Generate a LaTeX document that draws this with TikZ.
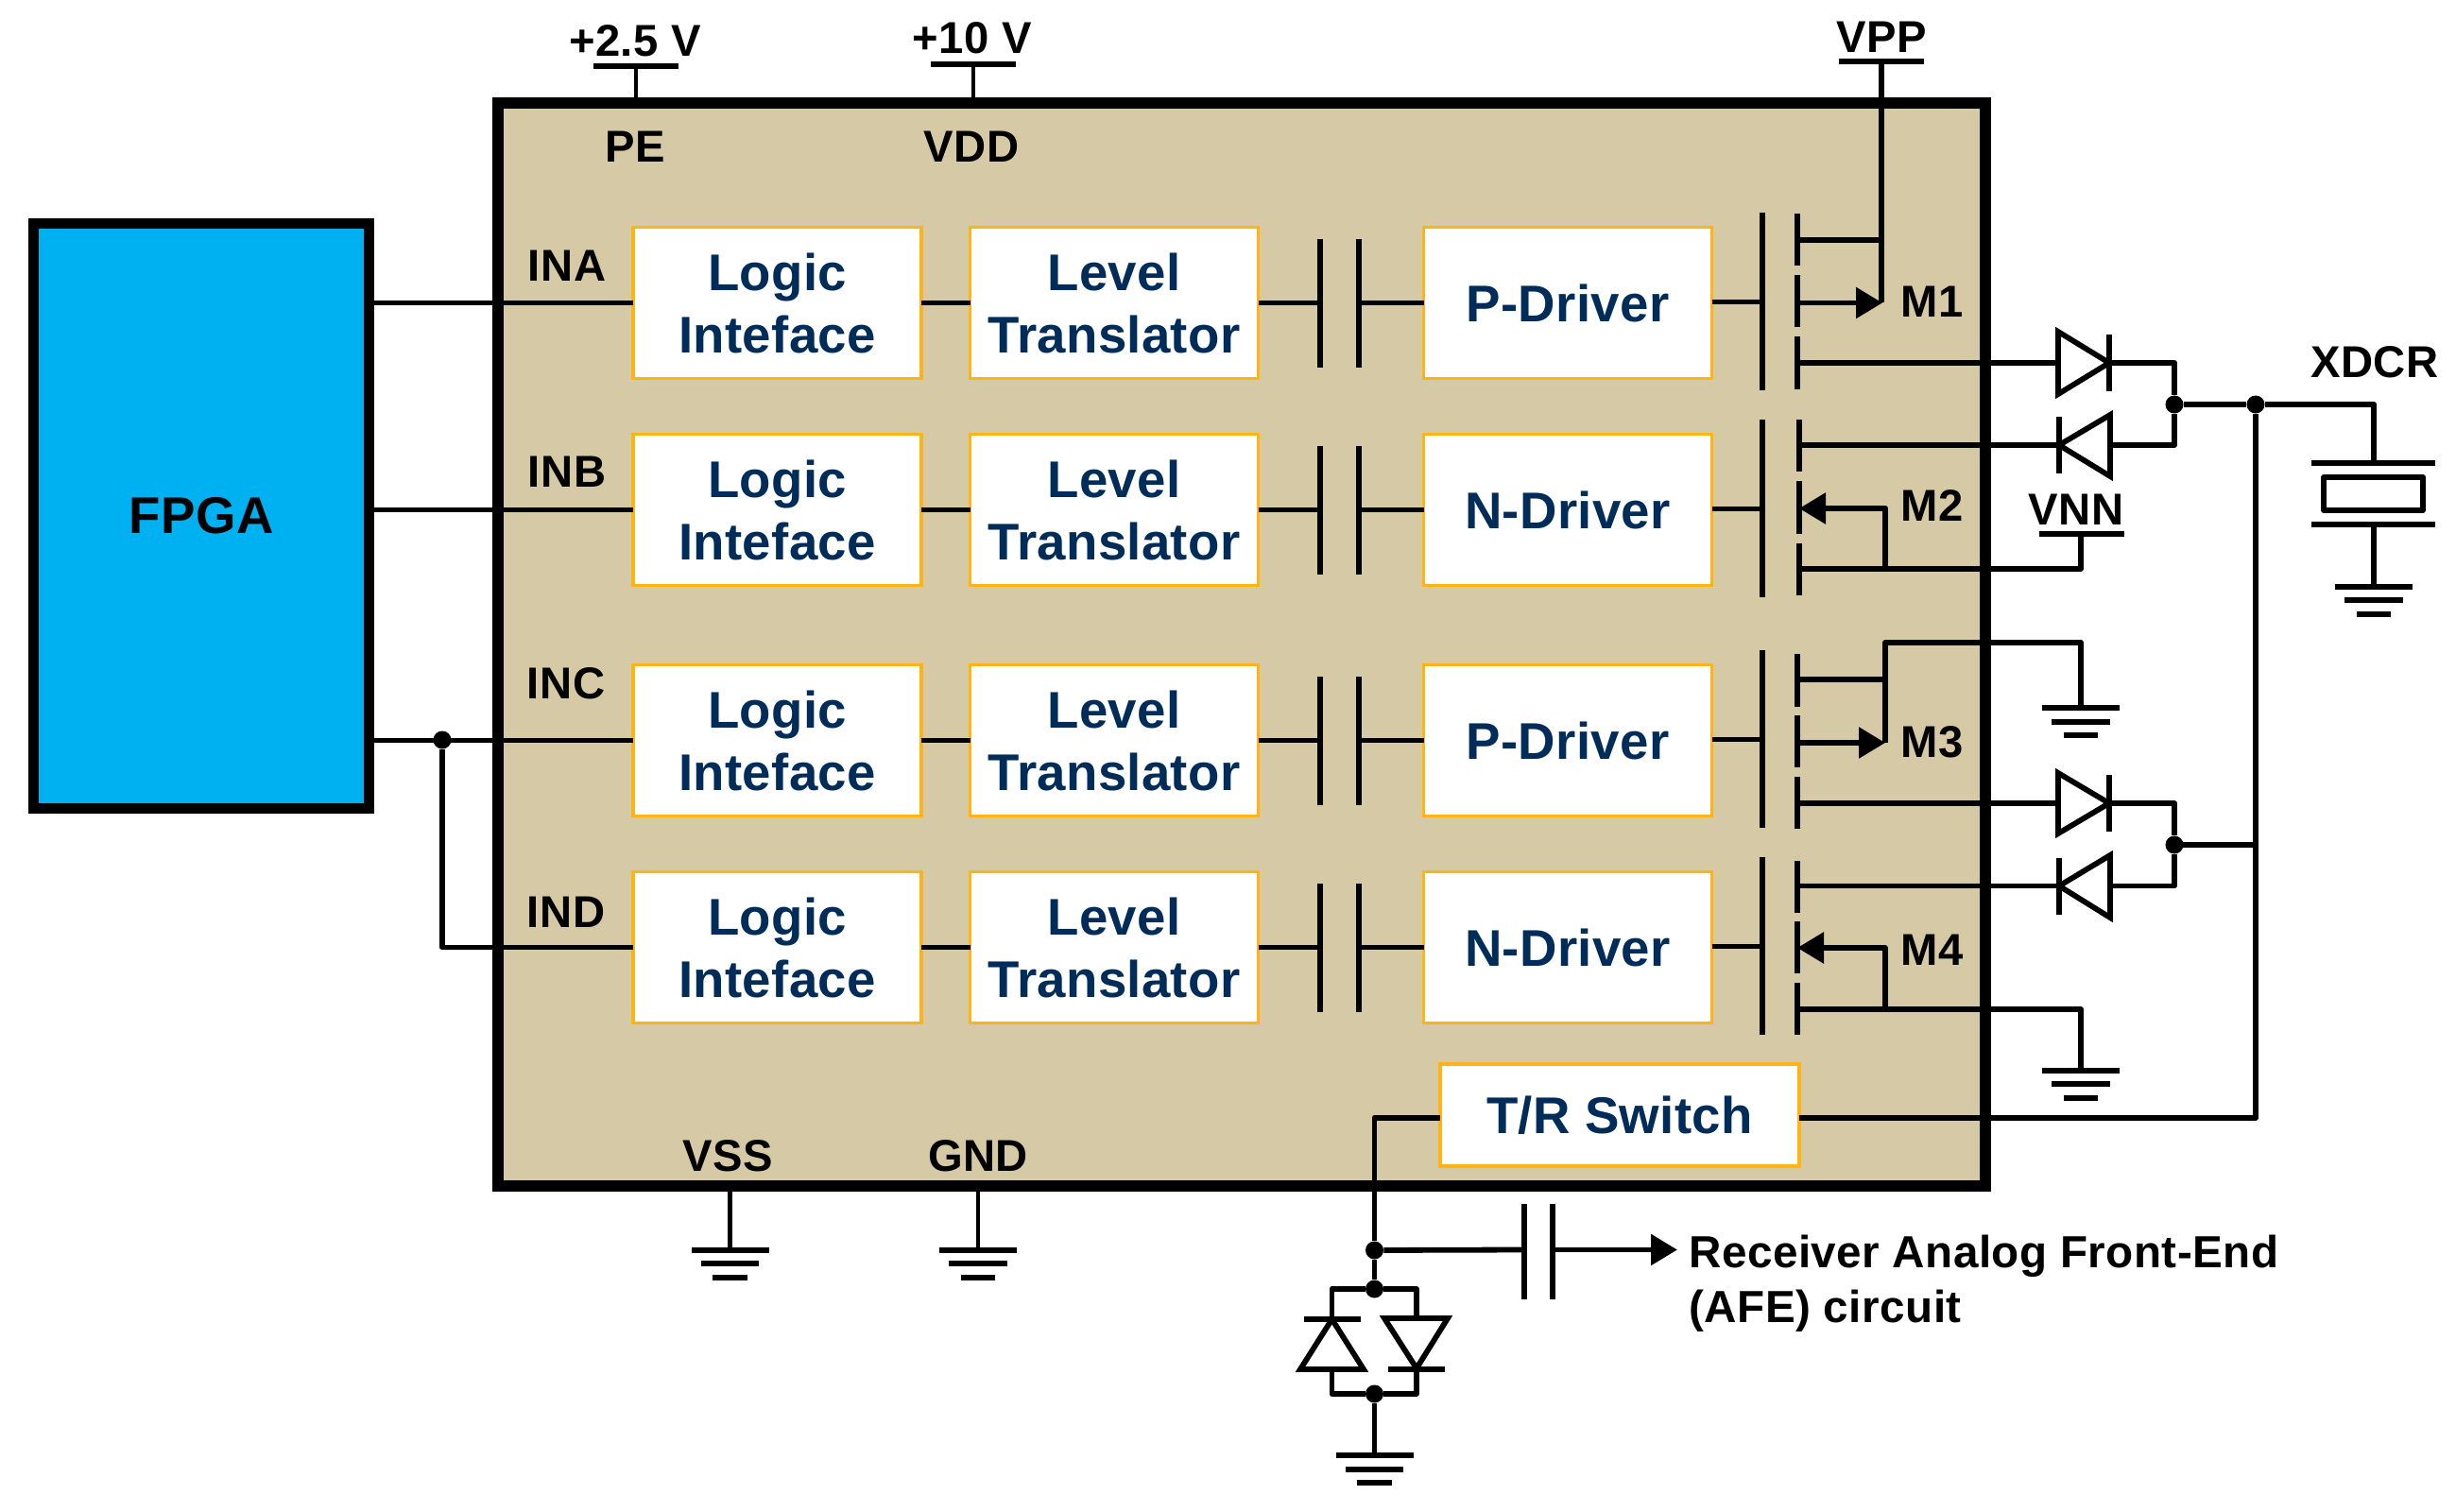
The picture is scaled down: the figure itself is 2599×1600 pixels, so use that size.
\documentclass[tikz,border=0pt]{standalone}
\usepackage{fontspec}
\setmainfont[LetterSpace=1.0]{Liberation Sans}
\newfontfamily\boxfont[LetterSpace=0.6]{Liberation Sans}
\usetikzlibrary{arrows.meta,calc}
\definecolor{chiptan}{HTML}{D6C9A5}
\definecolor{fpgablue}{HTML}{00B1F2}
\definecolor{boxorange}{HTML}{FFB414}
\definecolor{boxnavy}{HTML}{002C59}
\tikzset{
  x=0.5pt,y=-0.5pt,
  wire/.style={line width=2.9pt,line join=round,black},
  thin wire/.style={line width=2.3pt,line join=round,black},
  plate/.style={line width=3pt,black},
  tip/.style={-{Triangle[length=14pt,width=16pt]}},
  dot/.style={circle,fill=black,inner sep=0pt,minimum size=9.5pt},
  lab/.style={font=\bfseries\fontsize{23.6pt}{28pt}\selectfont,inner sep=0pt,anchor=base,text=black},
  block/.style={draw=boxorange,fill=white,line width=1.9pt,inner sep=0pt,outer sep=0pt,
    text=boxnavy,font=\boxfont\bfseries\fontsize{27.3pt}{33pt}\selectfont,align=center},
  wideblock/.style={block,minimum width=152.5pt,minimum height=80pt},
  chipframe/.style={draw=black,fill=chiptan,line width=5.8pt,inner sep=0pt,outer sep=0pt,
    minimum width=787pt,minimum height=573pt},
  fpgabox/.style={draw=black,fill=fpgablue,line width=5.6pt,inner sep=0pt,outer sep=0pt,
    minimum width=177.75pt,minimum height=309.25pt,
    font=\bfseries\fontsize{27.3pt}{33pt}\selectfont,text=black},
}
\begin{document}
\begin{tikzpicture}
\useasboundingbox (0,0) rectangle (2599,1600);
\fill[white] (0,0) rectangle (2599,1600);
% main blocks
\node[chipframe] (chip) at (1314,682) {};
\node[fpgabox] (fpga) at (213,546) {FPGA};

% four channels
\foreach \r/\cy/\drv in {a/320.5/P-Driver,b/539.5/N-Driver,c/783.5/P-Driver,d/1002.5/N-Driver}{
  \node[wideblock] (logic\r) at (822.5,\cy) {Logic\\Inteface};
  \node[wideblock] (level\r) at (1179,\cy) {Level\\Translator};
  \node[wideblock] (drv\r) at (1659,\cy) {\drv};
  \coordinate (capl\r) at (1397,\cy);
  \coordinate (capr\r) at (1438,\cy);
  \coordinate (gate\r) at (1865,\cy-1);
  \draw[wire] (logic\r.east) -- (level\r.west);
  \draw[wire] (level\r.east) -- (capl\r);
  \draw[wire] (capr\r) -- (drv\r.west);
  \draw[plate] ($(capl\r)+(0,-67.5)$) -- ($(capl\r)+(0,68)$);
  \draw[plate] ($(capr\r)+(0,-67.5)$) -- ($(capr\r)+(0,68)$);
  \draw[wire] (drv\r.east |- gate\r) -- (gate\r);
  \draw[plate] ($(gate\r)+(0,-95)$) -- ($(gate\r)+(0,93)$);
}
% inputs
\node[dot] (jc) at (468,783) {};
\draw[wire] (fpga.east |- logica.west) -- (logica.west);
\draw[wire] (fpga.east |- logicb.west) -- (logicb.west);
\draw[wire] (fpga.east |- logicc.west) -- (logicc.west);
\draw[wire] (jc) |- (logicd.west);
\node[lab] (ina) at (600,297) {INA};
\node[lab] (inb) at (600,515) {INB};
\node[lab] (inc) at (599,739) {INC};
\node[lab] (ind) at (599,981.5) {IND};

% supply pins
\node[lab] (pe) at (672,171) {PE};
\node[lab] (vdd) at (1028,171) {VDD};
\node[lab] (v25) at (672,60) {+2.5 V};
\node[lab] (v10) at (1029,57) {+10 V};
\node[lab] (vpp) at (1991,56) {VPP};
\node[lab] (vnn) at (2197,555) {VNN};
\node[lab] (vss) at (770,1239) {VSS};
\node[lab] (gndl) at (1035,1239) {GND};
\coordinate (barpe) at (673,70.5);
\coordinate (barvdd) at (1030,68);
\coordinate (barvpp) at (1991,65.5);
\coordinate (barvnn) at (2202,565);
\draw[plate] ($(barpe)+(-45,0)$) -- ($(barpe)+(45,0)$);
\draw[plate] ($(barvdd)+(-45,0)$) -- ($(barvdd)+(45,0)$);
\draw[plate] ($(barvpp)+(-45,0)$) -- ($(barvpp)+(45,0)$);
\draw[plate] ($(barvnn)+(-44,0)$) -- ($(barvnn)+(46,0)$);
\draw[thin wire] (barpe) -- (barpe |- chip.north);
\draw[thin wire] (barvdd) -- (barvdd |- chip.north);

% transistors: channel segments
\foreach \a/\b in {226/281,291/346,356/412,692/747.5,757/812,822/877,910.5/966,975/1030,1039.5/1095}
  \draw[plate] (1902,\a) -- (1902,\b);
\foreach \a/\b in {444/499,509/565,574.5/629.5}
  \draw[plate] (1904,\a) -- (1904,\b);
% transistor terminals
\coordinate (m1t) at (1902,254);
\coordinate (m1m) at (1902,320.5);
\coordinate (m2m) at (1904,538);
\coordinate (m2b) at (1904,602);
\coordinate (m3t) at (1902,719);
\coordinate (m3m) at (1902,786);
\coordinate (m4m) at (1902,1003);
\coordinate (m4b) at (1902,1068);
\coordinate (railp) at (1992,0);
\coordinate (railn) at (1995,0);
\coordinate (gnd3) at (2202,680);
\coordinate (m1mid) at (1991,320);
% M1
\draw[wire] (barvpp) -- (m1mid);
\draw[wire] (m1t) -- (m1t -| barvpp);
\draw[wire,tip] (m1m) -- (m1m -| railp);
\node[lab,anchor=base west] (m1) at (2011,335) {M1};
% M2
\draw[wire,tip] (railn |- m2b) -- (railn |- m2m) -- (m2m);
\node[lab,anchor=base west] (m2) at (2011,551) {M2};
% M3
\draw[wire] (m3t) -- (m3t -| railn);
\draw[wire] (railn |- m3m) -- (railn |- gnd3) -- (gnd3) -- (2202,749);
\draw[wire,tip] (m3m) -- (m3m -| railn);
\node[lab,anchor=base west] (m3) at (2011,801) {M3};
% M4
\draw[wire,tip] (railn |- m4b) -- (railn |- m4m) -- (m4m);
\node[lab,anchor=base west] (m4) at (2011,1021) {M4};
% source rails
\draw[wire] (m2b) -- (m2b -| barvnn) -- (barvnn);
\draw[wire] (m4b) -- (m4b -| barvnn) -- (2202,1132);

% output diodes
\foreach \t/\yt/\yb/\yj in {a/384/471/428,c/850/937.5/894}{
  \coordinate (dt\t) at (2232,\yt);
  \coordinate (db\t) at (2179,\yb);
  \node[dot] (j\t) at (2301,\yj) {};
  \draw[wire] (1902,\yt) -- (dt\t);
  \draw[wire] (1902,\yb) -- (db\t);
  \draw[wire] (dt\t) -- (2301,\yt) -- (j\t) -- (2301,\yb) -- (2233,\yb);
  \draw[plate] ($(dt\t)+(0,-30)$) -- ($(dt\t)+(0,30)$);
  \draw[plate] ($(db\t)+(0,-30)$) -- ($(db\t)+(0,30)$);
}
\fill[white] (2178,351) -- (2232,384) -- (2178,417) -- cycle;
\fill[white] (2233,439) -- (2179,471) -- (2233,504) -- cycle;
\fill[white] (2178,818) -- (2232,850) -- (2178,882) -- cycle;
\fill[white] (2233,905) -- (2179,937.5) -- (2233,971) -- cycle;
\draw[wire,line join=miter] (2178,351) -- (2232,384) -- (2178,417) -- cycle;
\draw[wire,line join=miter] (2233,439) -- (2179,471) -- (2233,504) -- cycle;
\draw[wire,line join=miter] (2178,818) -- (2232,850) -- (2178,882) -- cycle;
\draw[wire,line join=miter] (2233,905) -- (2179,937.5) -- (2233,971) -- cycle;

% output bus and transducer
\node[dot] (jbus) at (2387,428) {};
\coordinate (xdt) at (2512,490);
\coordinate (xdb) at (2512,555);
\coordinate (xgnd) at (2512,620.5);
\coordinate (jc2) at (2387,894);
\draw[wire] (ja) -- (jbus) -- (2512,428) -- (xdt);
\draw[wire] (jc) ++(0,0);
\draw[wire] (2301,894) -- (jc2);
\draw[plate] (2446,490) -- (2577,490);
\draw[wire] (2459,505) rectangle (2564,540);
\draw[plate] (2446,555) -- (2577,555);
\draw[wire] (xdb) -- (xgnd);
\node[lab,anchor=base west] (xdcr) at (2445,399) {XDCR};

% T/R switch
\node[block,minimum width=190pt,minimum height=54pt] (tr) at (1714,1180) {T/R Switch};
\coordinate (trr) at (1904,1183);
\coordinate (trl) at (1524,1183);
\draw[wire] (trr) -- (jbus |- trr) -- (jbus);
\node[dot] (jrx) at (1454.5,1323) {};
\node[dot] (jtop) at (1454.5,1364) {};
\node[dot] (jbot) at (1454.5,1475) {};
\draw[wire] (trl) -- (jrx |- trl) -- (jrx) -- (jtop);
\draw[wire] (jbot) -- (1454.5,1540);
% clamp diodes
\draw[wire] (1409.5,1396) -- (1409.5,1364) -- (jtop) -- (1499,1364) -- (1499,1395);
\draw[wire] (1409.5,1449) -- (1409.5,1475) -- (jbot) -- (1499,1475) -- (1499,1448);
\draw[plate] (1380,1395.5) -- (1439.5,1395.5);
\draw[plate] (1468.5,1448.5) -- (1529,1448.5);
\draw[wire,line join=miter] (1409.5,1396) -- (1443,1449) -- (1376,1449) -- cycle;
\draw[wire,line join=miter] (1499,1448) -- (1465,1395) -- (1532,1395) -- cycle;
% coupling capacitor and AFE output
\coordinate (cl) at (1612.5,1322.5);
\coordinate (cr) at (1643,1322.5);
\coordinate (afetip) at (1775,1322.5);
\draw[wire] (jrx) -- (cl);
\draw[plate] (1612.5,1274) -- (1612.5,1375);
\draw[plate] (1643,1274) -- (1643,1375);
\draw[wire,tip] (cr) -- (afetip);
\node[lab,anchor=west,align=left,font=\bfseries\fontsize{23.8pt}{29.3pt}\selectfont] (afe) at (1787,1358) {Receiver Analog Front-End\\(AFE) circuit};

% grounds
\foreach \name/\gx/\gy/\w in {g1/772.5/1322.5/41,g2/1035/1322.5/41,g3/2202/749/41,g4/2202/1132.5/41,g5/2512/620.5/41,g6/1454.5/1540/41}{
  \coordinate (\name) at (\gx,\gy);
  \draw[plate] ($(\name)+(-\w,0)$) -- ($(\name)+(\w,0)$);
  \draw[plate] ($(\name)+(-\w*0.75,14.5)$) -- ($(\name)+(\w*0.75,14.5)$);
  \draw[plate] ($(\name)+(-\w*0.45,29)$) -- ($(\name)+(\w*0.45,29)$);
}
\draw[thin wire] (g1) -- (g1 |- chip.south);
\draw[thin wire] (g2) -- (g2 |- chip.south);
\end{tikzpicture}
\end{document}
